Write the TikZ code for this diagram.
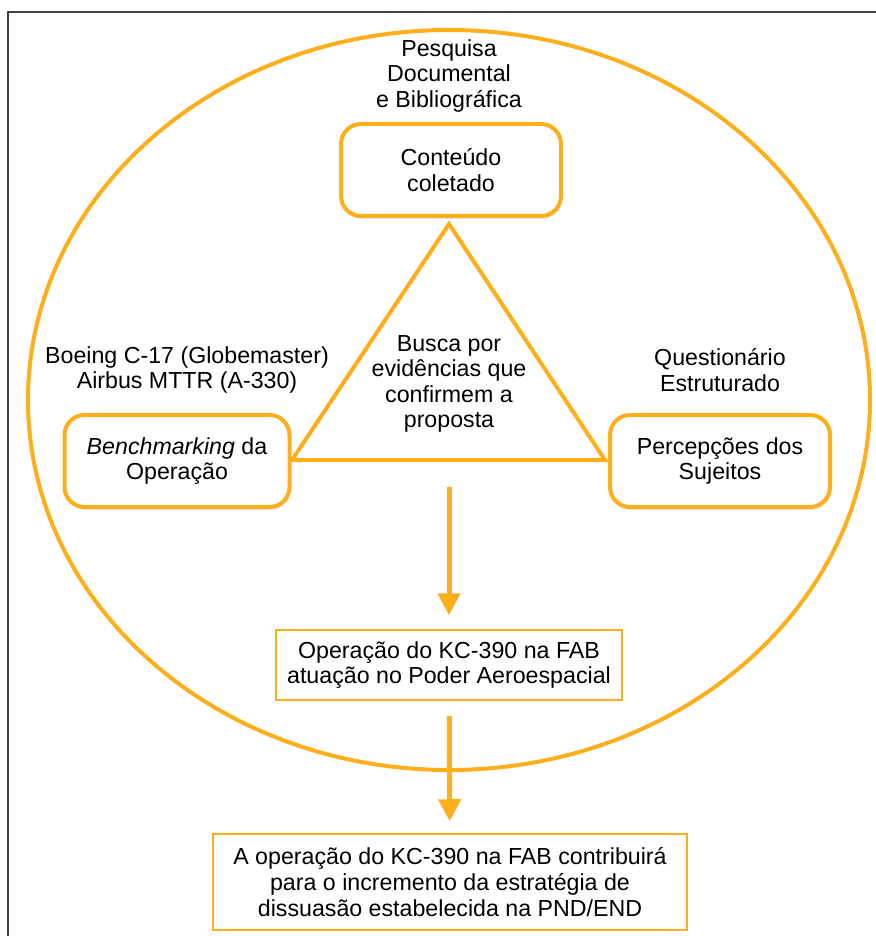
\documentclass[tikz,border=0pt]{standalone}
\usepackage{fontspec}
\setmainfont{Liberation Sans}
\usetikzlibrary{arrows.meta,shadows}
\definecolor{laranja}{RGB}{253,174,27}
\begin{document}
\begin{tikzpicture}[x=0.5pt, y=-0.5pt]
		\tikzset{txt/.style={align=center, font=\fontsize{11.6}{12.8}\selectfont, inner sep=0pt}};
		\tikzset{cx/.style={txt, draw=laranja, line width=2pt, rounded corners=10pt, fill=white, minimum width=110pt, minimum height=46pt, drop shadow={opacity=0.2, shadow xshift=0.6pt, shadow yshift=-1.5pt}}};
		\tikzset{qd/.style={txt, draw=laranja, line width=0.75pt, fill=white}};
		\tikzset{seta/.style={draw=laranja, line width=2.5pt, -{Triangle[width=11pt, length=11pt]}}};

		\useasboundingbox (0, 0) rectangle (876, 936);
		\draw[black!75, line width=0.6pt] (876, 12) -- (8, 12) -- (8, 936);

		\draw[laranja, line width=2pt] (449, 400) ellipse [x radius=210.5pt, y radius=185pt];

		\coordinate (ta) at (449, 224);
		\coordinate (tl) at (292, 460);
		\coordinate (tr) at (605, 460);
		\coordinate (tb) at (449, 460);
		\draw[laranja, line width=2pt, fill=white] (ta) -- (tl) -- (tr) -- cycle;

		\node[txt] (pesq) at (449, 76) {Pesquisa\\Documental\\e Bibliográfica};
		\node[txt] (boeing) at (187, 370) {Boeing C-17 (Globemaster)\\Airbus MTTR (A-330)};
		\node[txt] (quest) at (720, 370) {Questionário\\Estruturado};
		\node[txt] (busca) at (449, 384) {Busca por\\evidências que\\confirmem a\\proposta};

		\node[cx] (cont) at (451, 170) {Conteúdo\\coletado};
		\node[cx, minimum width=112.5pt] (bench) at (177, 461) {\textit{Benchmarking} da\\Operação};
		\node[cx] (perc) at (720, 461) {Percepções dos\\Sujeitos};

		\node[qd, minimum width=173pt, minimum height=35pt] (op) at (449, 665) {Operação do KC-390 na FAB\\atuação no Poder Aeroespacial};
		\node[qd, minimum width=237pt, minimum height=48pt] (fim) at (450, 882) {A operação do KC-390 na FAB contribuirá\\para o incremento da estratégia de\\dissuasão estabelecida na PND/END};

		\draw[seta, shorten <=13.5pt, shorten >=7pt] (tb) to (op);
		\draw[seta, shorten <=7.5pt, shorten >=6pt] (op) to (fim);
	\end{tikzpicture}
\end{document}
